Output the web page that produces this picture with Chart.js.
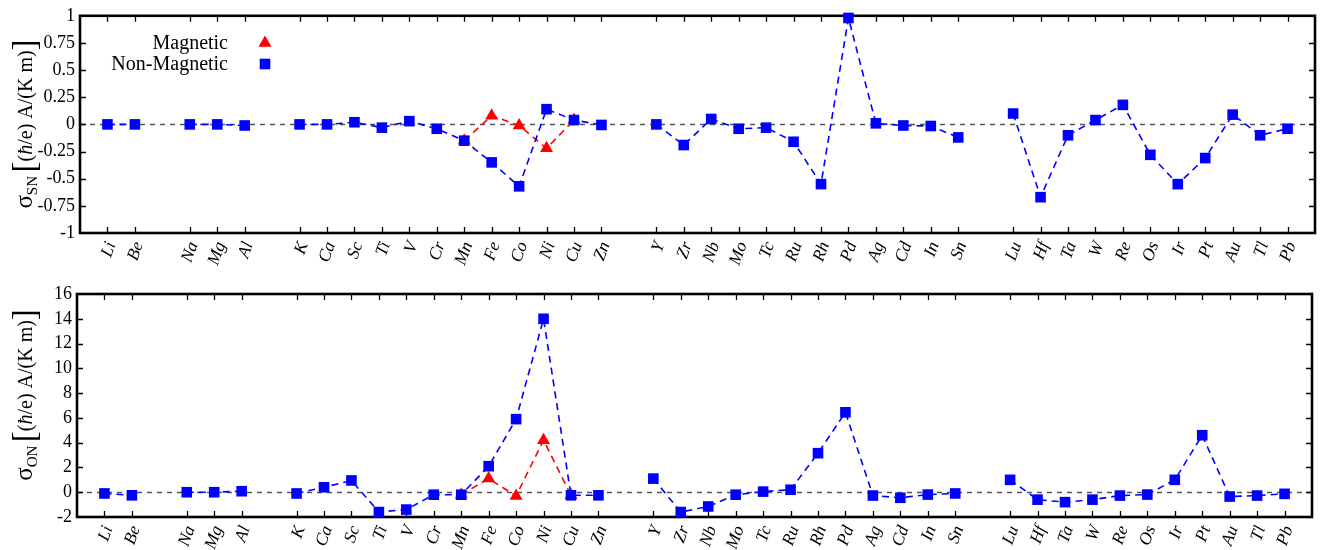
<!DOCTYPE html>
<html>
<head>
<meta charset="utf-8">
<script src="https://cdn.jsdelivr.net/npm/chart.js@4.4.1/dist/chart.umd.min.js"></script>
<style>
  html, body { margin: 0; padding: 0; background: #fff; }
  #wrap { position: relative; width: 1328px; height: 550px; }
  canvas { position: absolute; left: 0; }
</style>
</head>
<body>
<div id="wrap">
  <canvas id="sn" width="1328" height="270" style="top:0"></canvas>
  <canvas id="on" width="1328" height="280" style="top:270px"></canvas>
</div>
<script>
// element slots along x; empty strings are the gaps between periods
const elements = ['Li','Be','','Na','Mg','Al','','K','Ca','Sc','Ti','V','Cr','Mn','Fe','Co','Ni','Cu','Zn','',
  'Y','Zr','Nb','Mo','Tc','Ru','Rh','Pd','Ag','Cd','In','Sn','',
  'Lu','Hf','Ta','W','Re','Os','Ir','Pt','Au','Tl','Pb'];

// spin Nernst conductivity
const snNonMagnetic = [0, 0, null, 0, 0, -0.01, null,
  0, 0, 0.02, -0.03, 0.03, -0.04, -0.15, -0.35, -0.57, 0.14, 0.04, -0.005, null,
  0, -0.19, 0.05, -0.04, -0.03, -0.16, -0.55, 0.98, 0.01, -0.01, -0.015, -0.12, null,
  0.10, -0.67, -0.10, 0.04, 0.18, -0.28, -0.55, -0.31, 0.09, -0.10, -0.04];
const snMagnetic = [null, null, null, null, null, null, null,
  null, null, null, null, null, null, -0.15, 0.08, -0.01, -0.22, 0.04, null, null,
  null, null, null, null, null, null, null, null, null, null, null, null, null,
  null, null, null, null, null, null, null, null, null, null, null];

// orbital Nernst conductivity
const onNonMagnetic = [-0.1, -0.25, null, 0, 0, 0.08, null,
  -0.1, 0.4, 0.95, -1.6, -1.4, -0.2, -0.2, 2.1, 5.9, 14.0, -0.25, -0.25, null,
  1.1, -1.6, -1.15, -0.2, 0.05, 0.2, 3.15, 6.45, -0.27, -0.45, -0.19, -0.1, null,
  1.0, -0.6, -0.8, -0.6, -0.27, -0.19, 1.0, 4.6, -0.35, -0.27, -0.13];
const onMagnetic = [null, null, null, null, null, null, null,
  null, null, null, null, null, null, -0.2, 1.1, -0.3, 4.2, -0.25, null, null,
  null, null, null, null, null, null, null, null, null, null, null, null, null,
  null, null, null, null, null, null, null, null, null, null, null];

const snTicks = { min: -1, max: 1, step: 0.25 };
const onTicks = { min: -2, max: 16, step: 2 };

const SERIF = '"Liberation Serif", "DejaVu Serif", serif';
const BLUE = '#0000ff';
const RED = '#ff0000';

// frame, inward tick marks and the dashed zero line
const framePlugin = {
  id: 'frame',
  beforeDatasetsDraw(chart) {
    const { ctx, chartArea: a, scales } = chart;
    const x = scales.x, y = scales.y;
    ctx.save();
    ctx.strokeStyle = '#555';
    ctx.lineWidth = 1.5;
    ctx.setLineDash([5, 5]);
    const y0 = Math.round(y.getPixelForValue(0)) + 0.5;
    ctx.beginPath();
    ctx.moveTo(a.left, y0);
    ctx.lineTo(a.right, y0);
    ctx.stroke();
    ctx.setLineDash([]);

    ctx.strokeStyle = '#000';
    ctx.lineWidth = 1.3;
    const len = 6;
    ctx.beginPath();
    x.ticks.forEach(t => {
      const px = Math.round(x.getPixelForValue(t.value)) + 0.5;
      ctx.moveTo(px, a.top); ctx.lineTo(px, a.top + len);
      ctx.moveTo(px, a.bottom); ctx.lineTo(px, a.bottom - len);
    });
    y.ticks.forEach(t => {
      if (t.value <= y.min || t.value >= y.max) return;
      const py = Math.round(y.getPixelForValue(t.value)) + 0.5;
      ctx.moveTo(a.left, py); ctx.lineTo(a.left + len, py);
      ctx.moveTo(a.right, py); ctx.lineTo(a.right - len, py);
    });
    ctx.stroke();

    ctx.lineWidth = 2.6;
    ctx.strokeRect(a.left, a.top, a.right - a.left, a.bottom - a.top);
    ctx.restore();
  }
};

// rotated axis title with subscript and tall brackets
function drawYTitle(ctx, sub, cx, cy) {
  const parts = [
    { t: 'σ', f: '25px ' + SERIF, dy: 0 },
    { t: sub, f: '15px ' + SERIF, dy: 5 },
    { t: ' ', f: '14px ' + SERIF, dy: 0 },
    { t: '[', f: '33px ' + SERIF, dy: 3 },
    { t: '(', f: '20px ' + SERIF, dy: 0 },
    { t: 'ħ', f: 'italic 20px ' + SERIF, dy: 0 },
    { t: '/e) A/(K m)', f: '20px ' + SERIF, dy: 0 },
    { t: ']', f: '33px ' + SERIF, dy: 3 }
  ];
  ctx.save();
  ctx.translate(cx, cy);
  ctx.rotate(-Math.PI / 2);
  ctx.fillStyle = '#000';
  ctx.textBaseline = 'alphabetic';
  ctx.textAlign = 'left';
  let total = 0;
  parts.forEach(p => { ctx.font = p.f; p.w = ctx.measureText(p.t).width; total += p.w; });
  let x = -total / 2;
  parts.forEach(p => {
    ctx.font = p.f;
    ctx.fillText(p.t, x, 8 + p.dy);
    x += p.w;
  });
  ctx.restore();
}

function legendEntry(ctx, label, style, color, tx, mx, y) {
  ctx.save();
  ctx.font = '20px ' + SERIF;
  ctx.fillStyle = '#000';
  ctx.textAlign = 'right';
  ctx.textBaseline = 'middle';
  ctx.fillText(label, tx, y + 1);
  ctx.fillStyle = color;
  Chart.helpers.drawPoint(ctx, { pointStyle: style, radius: 7.5, rotation: 0, borderWidth: 0 }, mx, y);
  ctx.restore();
}

function makePanel(id, nonMag, mag, range, sub, area, titleY, withLegend) {
  const canvas = document.getElementById(id);
  const W = canvas.width, H = canvas.height;
  const positions = elements.map((e, i) => i).filter(i => elements[i] !== '');

  const annot = {
    id: 'annot',
    afterDraw(chart) {
      const ctx = chart.ctx;
      drawYTitle(ctx, sub, 24, titleY);
      if (withLegend) {
        legendEntry(ctx, 'Magnetic', 'triangle', RED, 228, 265, 43);
        legendEntry(ctx, 'Non-Magnetic', 'rect', BLUE, 228, 265, 64);
      }
    }
  };

  return new Chart(canvas, {
    type: 'line',
    data: {
      labels: elements.map((e, i) => i),
      datasets: [
        {
          label: 'Non-Magnetic',
          data: nonMag,
          borderColor: BLUE,
          backgroundColor: BLUE,
          borderWidth: 1.6,
          borderDash: [7, 5],
          pointStyle: 'rect',
          pointRadius: 7.5,
          pointBorderWidth: 0,
          pointBackgroundColor: BLUE,
          spanGaps: false,
          tension: 0,
          clip: false
        },
        {
          label: 'Magnetic',
          data: mag,
          borderColor: RED,
          backgroundColor: RED,
          borderWidth: 1.6,
          borderDash: [7, 5],
          pointStyle: 'triangle',
          pointRadius: 7.5,
          pointBorderWidth: 0,
          pointBackgroundColor: RED,
          spanGaps: false,
          tension: 0,
          clip: false
        }
      ]
    },
    options: {
      responsive: false,
      animation: false,
      events: [],
      layout: { padding: { left: 0, top: area.top, right: W - area.right, bottom: 0 } },
      plugins: { legend: { display: false }, tooltip: { enabled: false } },
      scales: {
        x: {
          type: 'linear',
          min: -1,
          max: 44,
          afterBuildTicks: s => { s.ticks = positions.map(v => ({ value: v })); },
          afterFit: s => { s.height = H - area.bottom; },
          grid: { display: false, drawTicks: false },
          border: { display: false },
          ticks: {
            autoSkip: false,
            minRotation: 70,
            maxRotation: 70,
            padding: 6,
            labelOffset: 4,
            color: '#000',
            font: { family: SERIF, size: 17.5, style: 'italic' },
            callback: v => elements[v]
          }
        },
        y: {
          min: range.min,
          max: range.max,
          afterFit: s => { s.width = area.left; },
          grid: { display: false, drawTicks: false },
          border: { display: false },
          ticks: {
            stepSize: range.step,
            padding: 5,
            color: '#000',
            font: { family: SERIF, size: 18 },
            callback: v => String(+v.toFixed(2))
          }
        }
      }
    },
    plugins: [framePlugin, annot]
  });
}

makePanel('sn', snNonMagnetic, snMagnetic, snTicks, 'SN',
  { left: 80, right: 1315, top: 10, bottom: 233 }, 124, true);
makePanel('on', onNonMagnetic, onMagnetic, onTicks, 'ON',
  { left: 77, right: 1312, top: 24, bottom: 247 }, 125, false);
</script>
</body>
</html>
